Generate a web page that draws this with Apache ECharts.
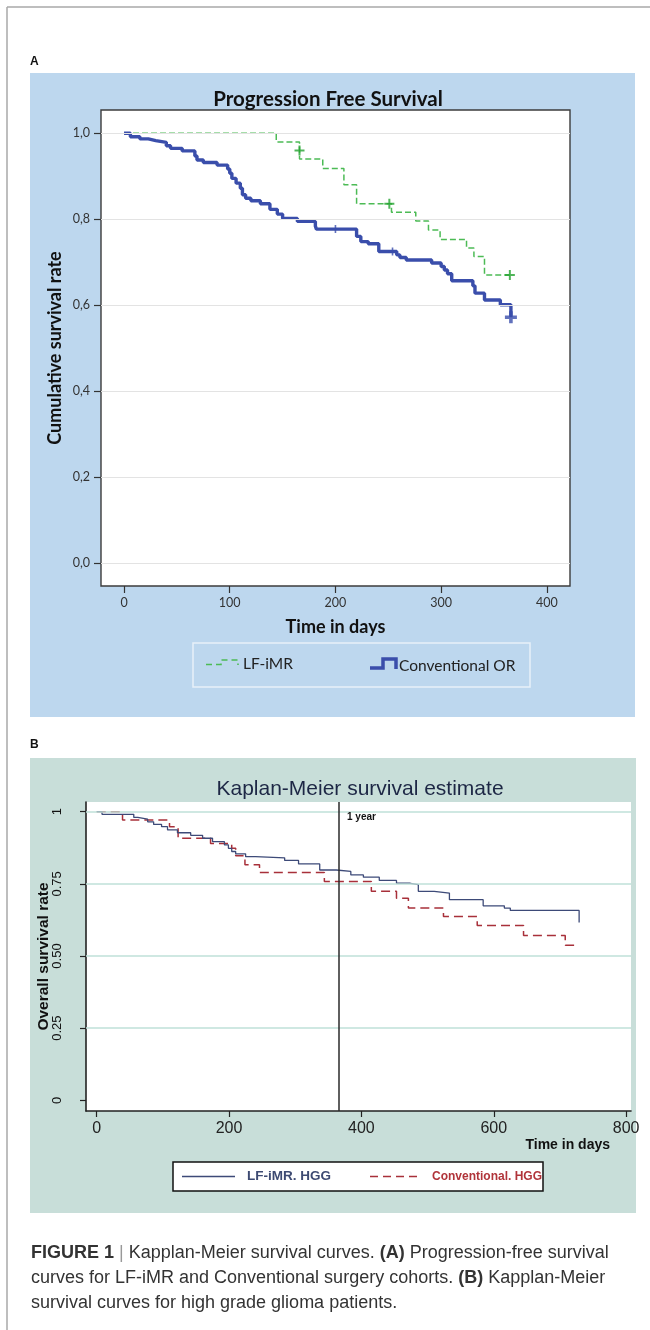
<!DOCTYPE html>
<html>
<head>
<meta charset="utf-8">
<script src="https://cdn.jsdelivr.net/npm/echarts@6/dist/echarts.min.js"></script>
<style>
html,body{margin:0;padding:0;background:#fff;}
#chart{width:650px;height:1330px;}
</style>
</head>
<body>
<div id="chart"></div>
<script>
// ---------- Panel A: Progression Free Survival ----------
const pfsLfDays = [0,144,166,188,208,220,253,276,288,299,324,331,341,365];
const pfsLfSurv = [1.0,0.98,0.94,0.918,0.88,0.836,0.816,0.796,0.775,0.753,0.733,0.713,0.67,0.67];
const pfsLfCensDays = [166,251,365];
const pfsLfCensSurv = [0.96,0.836,0.67];

const pfsConvDays = [0,6,15,23,30,40,44,55,67,69,75,88,98,100,102,106,110,112,115,120,129,138,145,150,164,181,182,220,224,231,241,258,261,267,291,300,303,306,310,330,332,341,356,366];
const pfsConvSurv = [1.0,0.992,0.987,0.983,0.979,0.971,0.965,0.959,0.947,0.938,0.932,0.926,0.917,0.907,0.895,0.884,0.872,0.857,0.849,0.843,0.836,0.823,0.812,0.802,0.795,0.784,0.777,0.760,0.748,0.743,0.725,0.717,0.711,0.705,0.698,0.690,0.682,0.673,0.657,0.645,0.628,0.612,0.601,0.572];
const pfsConvCensDays = [200,254];
const pfsConvCensSurv = [0.777,0.725];
const pfsConvEndDay = [366];
const pfsConvEndSurv = [0.572];

const pfsXTicks = [0,100,200,300,400];
const pfsYTicks = [0,0.2,0.4,0.6,0.8,1.0];

// ---------- Panel B: Overall survival (HGG) ----------
const osLfDays = [0,8,56,62,77,86,98,107,122,142,160,175,193,199,204,210,225,240,284,305,337,362,384,403,427,453,474,486,510,533,584,616,625,729];
const osLfSurv = [1,0.991,0.980,0.974,0.965,0.956,0.948,0.937,0.927,0.918,0.908,0.896,0.885,0.873,0.862,0.854,0.844,0.840,0.831,0.819,0.798,0.793,0.781,0.773,0.762,0.752,0.747,0.724,0.718,0.695,0.674,0.666,0.658,0.616];

const osConvDays = [0,39,110,123,172,204,210,224,246,344,415,453,471,524,575,645,708,729];
const osConvSurv = [1,0.971,0.948,0.908,0.890,0.873,0.847,0.816,0.789,0.758,0.724,0.700,0.666,0.637,0.606,0.571,0.537,0.537];

const osXTicks = [0,200,400,600,800];
const osYTicks = [0,0.25,0.5,0.75,1];
const oneYearDay = 365;

// ---------- helpers ----------
const zip = (a, b) => a.map((v, i) => [v, b[i]]);
const PLUS = 'path://M4,0H6V4H10V6H6V10H4V6H0V4H4Z';
const PLUS_THICK = 'path://M3.5,0H6.5V3.5H10V6.5H6.5V10H3.5V6.5H0V3.5H3.5Z';
const fA = 'Lato, "Open Sans", sans-serif';
const fB = '"Liberation Sans", Arial, sans-serif';

const chart = echarts.init(document.getElementById('chart'), null, {renderer: 'canvas'});

const option = {
  animation: false,
  backgroundColor: '#ffffff',
  title: [
    {
      text: 'Progression Free Survival',
      left: 323, top: 84, textAlign: 'center',
      textStyle: {fontFamily: fA, fontWeight: 'bold', fontSize: 20.5, color: '#111'}
    },
    {
      text: 'Kaplan-Meier survival estimate',
      left: 355, top: 774, textAlign: 'center',
      textStyle: {fontFamily: fB, fontWeight: 'normal', fontSize: 21, color: '#1d2745'}
    }
  ],
  grid: [
    {left: 101, top: 110, width: 469, height: 476, show: true, backgroundColor: '#ffffff', borderColor: '#3c3c3c', borderWidth: 1.4, containLabel: false},
    {left: 86, top: 802, width: 545, height: 309, show: true, backgroundColor: '#ffffff', borderWidth: 0, containLabel: false}
  ],
  xAxis: [
    {
      gridIndex: 0, type: 'value', min: -21.8, max: 421.9,
      name: 'Time in days', nameLocation: 'middle', nameGap: 32, nameMoveOverlap: false,
      nameTextStyle: {fontFamily: fA, fontWeight: 'bold', fontSize: 18, color: '#111'},
      axisLine: {show: false, onZero: false},
      axisTick: {show: true, customValues: pfsXTicks, length: 7, lineStyle: {color: '#333', width: 1.2}},
      axisLabel: {show: true, customValues: pfsXTicks, margin: 10, fontFamily: fA, fontSize: 12.5, color: '#333'},
      splitLine: {show: false}
    },
    {
      gridIndex: 1, type: 'value', min: -16.2, max: 807.4,
      name: 'Time in days', nameLocation: 'end', nameGap: -21, nameMoveOverlap: false,
      nameTextStyle: {fontFamily: fB, fontWeight: 'bold', fontSize: 14, color: '#111', align: 'right', verticalAlign: 'top', padding: [27, 0, 0, 0]},
      axisLine: {show: true, onZero: false, lineStyle: {color: '#222', width: 1.6}},
      axisTick: {show: true, customValues: osXTicks, length: 6, lineStyle: {color: '#222', width: 1.2}},
      axisLabel: {show: true, customValues: osXTicks, margin: 10, fontFamily: fB, fontSize: 16, color: '#222'},
      splitLine: {show: false}
    }
  ],
  yAxis: [
    {
      gridIndex: 0, type: 'value', min: -0.0535, max: 1.0542,
      name: 'Cumulative survival rate', nameLocation: 'middle', nameGap: 37, nameRotate: 90, nameMoveOverlap: false,
      nameTextStyle: {fontFamily: fA, fontWeight: 'bold', fontSize: 18, color: '#111'},
      axisLine: {show: false, onZero: false},
      axisTick: {show: true, customValues: pfsYTicks, length: 7, lineStyle: {color: '#333', width: 1.2}},
      axisLabel: {show: true, customValues: pfsYTicks, margin: 11, fontFamily: fA, fontSize: 12.5, color: '#333',
        formatter: v => v.toFixed(1).replace('.', ',')},
      splitLine: {show: false}
    },
    {
      gridIndex: 1, type: 'value', min: -0.0371, max: 1.0336,
      name: 'Overall survival rate', nameLocation: 'middle', nameGap: 34, nameRotate: 90, nameMoveOverlap: false,
      nameTextStyle: {fontFamily: fB, fontWeight: 'bold', fontSize: 15.5, color: '#111'},
      axisLine: {show: true, onZero: false, lineStyle: {color: '#222', width: 1.6}},
      axisTick: {show: true, customValues: osYTicks, length: 6, lineStyle: {color: '#222', width: 1.2}},
      axisLabel: {show: true, customValues: osYTicks, margin: 22.5, rotate: 90, fontFamily: fB, fontSize: 13, color: '#111',
        formatter: v => (v === 0 ? '0' : v === 1 ? '1' : v.toFixed(2))},
      splitLine: {show: false}
    }
  ],
  series: [
    // Panel A gridlines
    {
      name: 'gridA', type: 'line', xAxisIndex: 0, yAxisIndex: 0, data: [], z: 1, silent: true,
      markLine: {silent: true, symbol: 'none', label: {show: false},
        lineStyle: {color: '#e3e3e3', width: 1.2, type: 'solid'},
        data: pfsYTicks.map(v => ({yAxis: v}))}
    },
    {
      name: 'LF-iMR', type: 'line', xAxisIndex: 0, yAxisIndex: 0, step: 'end', showSymbol: false, symbol: 'none', z: 3,
      lineStyle: {color: '#4cbb55', width: 1.5, type: [6, 3]},
      data: zip(pfsLfDays, pfsLfSurv)
    },
    {
      name: 'Conventional OR', type: 'line', xAxisIndex: 0, yAxisIndex: 0, step: 'end', showSymbol: false, symbol: 'none', z: 4,
      lineStyle: {color: '#3a4eab', width: 3.4},
      data: zip(pfsConvDays, pfsConvSurv)
    },
    {
      name: 'LF-iMR censored', type: 'scatter', xAxisIndex: 0, yAxisIndex: 0, symbol: PLUS, symbolSize: 10, z: 5,
      itemStyle: {color: '#23a22f'},
      data: zip(pfsLfCensDays, pfsLfCensSurv)
    },
    {
      name: 'Conventional OR censored', type: 'scatter', xAxisIndex: 0, yAxisIndex: 0, symbol: PLUS, symbolSize: 8, z: 5,
      itemStyle: {color: '#3a4eab'},
      data: zip(pfsConvCensDays, pfsConvCensSurv)
    },
    {
      name: 'Conventional OR last', type: 'scatter', xAxisIndex: 0, yAxisIndex: 0, symbol: PLUS_THICK, symbolSize: 12, z: 5,
      itemStyle: {color: '#3a4eab'},
      data: zip(pfsConvEndDay, pfsConvEndSurv)
    },
    // Panel B gridlines + 1 year line
    {
      name: 'gridB', type: 'line', xAxisIndex: 1, yAxisIndex: 1, data: [], z: 1, silent: true,
      markLine: {silent: true, symbol: 'none', label: {show: false},
        lineStyle: {color: '#bfe0d8', width: 1.5, type: 'solid'},
        data: osYTicks.filter(v => v > 0).map(v => ({yAxis: v}))}
    },
    {
      name: '1 year', type: 'line', xAxisIndex: 1, yAxisIndex: 1, data: [], z: 2, silent: true,
      markLine: {silent: true, symbol: 'none', label: {show: false},
        lineStyle: {color: '#2a2a2a', width: 1.5, type: 'solid'},
        data: [{xAxis: oneYearDay}]}
    },
    {
      name: 'LF-iMR. HGG', type: 'line', xAxisIndex: 1, yAxisIndex: 1, step: 'end', showSymbol: false, symbol: 'none', z: 4,
      lineStyle: {color: '#3d4a78', width: 1.3},
      data: zip(osLfDays, osLfSurv)
    },
    {
      name: 'Conventional. HGG', type: 'line', xAxisIndex: 1, yAxisIndex: 1, step: 'end', showSymbol: false, symbol: 'none', z: 3,
      lineStyle: {color: '#a8303a', width: 1.5, type: [9, 5]},
      data: zip(osConvDays, osConvSurv)
    }
  ],
  graphic: [
    // outer page frame
    {type: 'line', z: -20, shape: {x1: 7, y1: 7, x2: 650, y2: 7}, style: {stroke: '#a8a8a8', lineWidth: 1.5}},
    {type: 'line', z: -20, shape: {x1: 7, y1: 7, x2: 7, y2: 1330}, style: {stroke: '#a8a8a8', lineWidth: 1.5}},
    // panel letters
    {type: 'text', z: 10, left: 30, top: 56, style: {text: 'A', font: 'bold 12px ' + fB, fill: '#111'}},
    {type: 'text', z: 10, left: 30, top: 739, style: {text: 'B', font: 'bold 12px ' + fB, fill: '#111'}},
    // backgrounds
    {type: 'rect', z: -10, shape: {x: 30, y: 73, width: 605, height: 644}, style: {fill: '#bdd7ee'}},
    {type: 'rect', z: -10, shape: {x: 30, y: 758, width: 606, height: 455}, style: {fill: '#c8ded9'}},
    // legend A
    {type: 'rect', z: 10, shape: {x: 193, y: 643, width: 337, height: 44}, style: {fill: 'none', stroke: '#e8f1f9', lineWidth: 1.5}},
    {type: 'polyline', z: 10, shape: {points: [[206, 664.5], [221, 664.5], [221, 660], [238, 660], [238, 665]]}, style: {fill: 'none', stroke: '#4cbb55', lineWidth: 1.6, lineDash: [6, 4]}},
    {type: 'text', z: 10, x: 243, y: 664, style: {text: 'LF-iMR', font: '15.5px ' + fA, fill: '#222', verticalAlign: 'middle'}},
    {type: 'polyline', z: 10, shape: {points: [[370, 668], [383, 668], [383, 659], [396, 659], [396, 669]]}, style: {fill: 'none', stroke: '#3a4eab', lineWidth: 3.5}},
    {type: 'text', z: 10, x: 399, y: 666, style: {text: 'Conventional OR', font: '15.5px ' + fA, fill: '#222', verticalAlign: 'middle'}},
    // 1 year label
    {type: 'text', z: 10, x: 347, y: 817, style: {text: '1 year', font: 'bold 10px ' + fB, fill: '#111', verticalAlign: 'middle'}},
    // legend B
    {type: 'rect', z: 10, shape: {x: 173, y: 1162, width: 370, height: 29}, style: {fill: '#ffffff', stroke: '#111', lineWidth: 1.5}},
    {type: 'line', z: 11, shape: {x1: 182, y1: 1176.5, x2: 235, y2: 1176.5}, style: {stroke: '#3d4a78', lineWidth: 1.5}},
    {type: 'text', z: 11, x: 247, y: 1176.5, style: {text: 'LF-iMR. HGG', font: 'bold 13.5px ' + fB, fill: '#3d4a72', verticalAlign: 'middle'}},
    {type: 'line', z: 11, shape: {x1: 370, y1: 1176.5, x2: 420, y2: 1176.5}, style: {stroke: '#a8303a', lineWidth: 1.5, lineDash: [8, 5]}},
    {type: 'text', z: 11, x: 432, y: 1176.5, style: {text: 'Conventional. HGG', font: 'bold 12px ' + fB, fill: '#b0343a', verticalAlign: 'middle'}},
    // caption
    {type: 'text', z: 10, x: 31, y: 1253, style: {
      text: '{b|FIGURE 1} {s||} Kapplan-Meier survival curves. {b|(A)} Progression-free survival',
      font: '18px ' + fB, fill: '#333', verticalAlign: 'middle',
      rich: {b: {font: 'bold 18px ' + fB, fill: '#333'}, s: {font: '18px ' + fB, fill: '#999'}}
    }},
    {type: 'text', z: 10, x: 31, y: 1278, style: {
      text: 'curves for LF-iMR and Conventional surgery cohorts. {b|(B)} Kapplan-Meier',
      font: '18px ' + fB, fill: '#333', verticalAlign: 'middle',
      rich: {b: {font: 'bold 18px ' + fB, fill: '#333'}}
    }},
    {type: 'text', z: 10, x: 31, y: 1303, style: {
      text: 'survival curves for high grade glioma patients.',
      font: '18px ' + fB, fill: '#333', verticalAlign: 'middle'
    }}
  ]
};
chart.setOption(option);
</script>
</body>
</html>
